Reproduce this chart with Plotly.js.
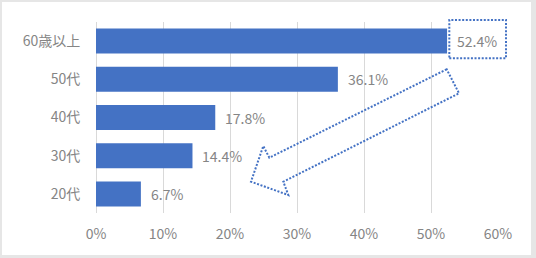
<!DOCTYPE html>
<html>
<head>
<meta charset="utf-8">
<script src="https://cdn.plot.ly/plotly-3.0.1.min.js"></script>
<style>
  html, body { margin: 0; padding: 0; background: #e6e6e6; }
  #wrap { position: relative; width: 536px; height: 258px; background: #e6e6e6; overflow: hidden; }
  #chart { position: absolute; left: 2px; top: 2px; width: 529px; height: 253px; background: #fff; }
</style>
</head>
<body>
<div id="wrap"><div id="chart"></div></div>
<script>
const categories = ["20代", "30代", "40代", "50代", "60歳以上"];
const values = [6.7, 14.4, 17.8, 36.1, 52.4];
const valueLabels = ["6.7%", "14.4%", "17.8%", "36.1%", "52.4%"];
const xTickVals = [0, 10, 20, 30, 40, 50, 60];
const xTickText = ["0%", "10%", "20%", "30%", "40%", "50%", "60%"];

const blue = "#4472C4";
const gray = "#858585";
const font = "'Noto Sans CJK JP', 'Noto Sans', sans-serif";

const trace = {
  type: "bar",
  orientation: "h",
  y: categories,
  x: values,
  marker: { color: blue },
  hoverinfo: "skip"
};

const labelAnnotations = values.map((v, i) => ({
  x: v, y: categories[i], xref: "x", yref: "y",
  text: valueLabels[i], showarrow: false,
  xanchor: "left", yanchor: "middle", xshift: 8,
  font: { family: font, size: 14, color: gray }
}));

const dotted = { color: blue, width: 2, dash: "2px,1.6px" };

const layout = {
  width: 529,
  height: 253,
  margin: { l: 94, r: 33, t: 20, b: 42 },
  paper_bgcolor: "#ffffff",
  plot_bgcolor: "#ffffff",
  showlegend: false,
  bargap: 0.345,
  font: { family: font, color: gray, size: 14 },
  xaxis: {
    range: [0, 60],
    tickvals: xTickVals,
    ticktext: xTickText,
    showgrid: true,
    gridcolor: "#d9d9d9",
    gridwidth: 1,
    zeroline: true,
    zerolinecolor: "#d9d9d9",
    zerolinewidth: 1,
    showline: false,
    ticks: "outside",
    ticklen: 8,
    tickcolor: "rgba(0,0,0,0)",
    tickfont: { family: font, size: 14, color: gray },
    fixedrange: true
  },
  yaxis: {
    categoryorder: "array",
    categoryarray: categories,
    showgrid: false,
    zeroline: false,
    showline: false,
    ticks: "outside",
    ticklen: 12,
    tickcolor: "rgba(0,0,0,0)",
    tickfont: { family: font, size: 14, color: gray },
    fixedrange: true
  },
  annotations: labelAnnotations,
  shapes: [
    {
      type: "rect", xref: "paper", yref: "paper",
      x0: 0.8789, x1: 1.0199, y0: 0.81, y1: 1.0105,
      line: dotted, fillcolor: "rgba(0,0,0,0)"
    },
    {
      type: "path", xref: "x", yref: "paper",
      path: "M52.34,0.7524 L25.87,0.2895 L24.97,0.3508 L23.13,0.1639 L28.70,0.0942 L27.96,0.1639 L54.18,0.6267 Z",
      line: dotted, fillcolor: "rgba(0,0,0,0)"
    }
  ]
};

Plotly.newPlot("chart", [trace], layout, { displayModeBar: false, staticPlot: true });
</script>
</body>
</html>
